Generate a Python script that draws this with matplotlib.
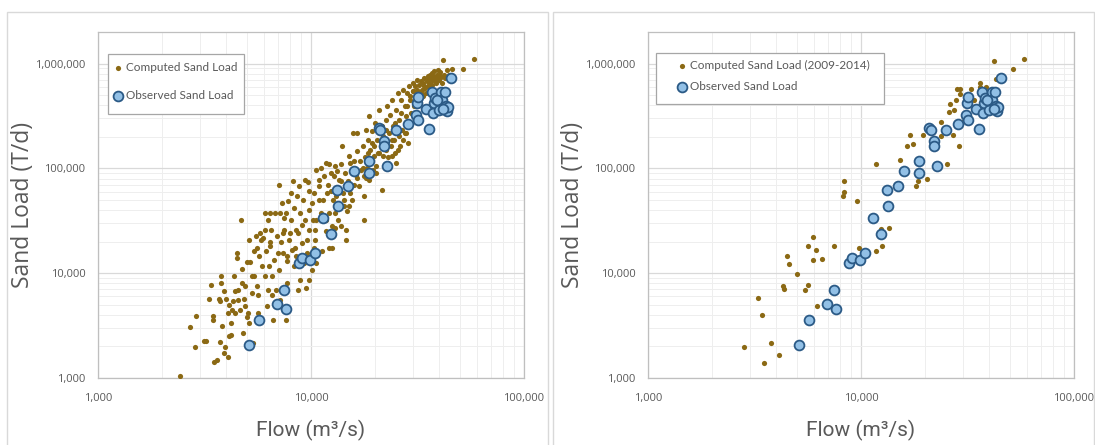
import numpy as np
import matplotlib
matplotlib.use('Agg')
import matplotlib.pyplot as plt
from matplotlib.ticker import FixedLocator, FuncFormatter, LogLocator, NullFormatter
from matplotlib.patches import Rectangle

plt.rcParams['font.family'] = ['Open Sans', 'DejaVu Sans']

# computed sand load, all years (flow m3/s, load T/d)
comp_flow = [2420, 2690, 2850, 2890, 3140, 3220, 3310, 3400, 3450, 3480, 3520, 3630, 3730, 3770, 3770,
             3680, 3740, 3840, 3910, 3950, 4060, 4090, 4140, 4220, 4270, 4220, 4320, 4350, 4380, 4420,
             4470, 4500, 4550, 4700, 4730, 4730, 4790, 4910, 4910, 5030, 5030, 5070, 5140, 5200, 5260,
             5340, 5400, 5500, 5560, 5620, 5640, 5720, 5780, 5860, 5980, 6060, 6110, 6160, 6210, 6270,
             6410, 6410, 6470, 6580, 6640, 6710, 6850, 6900, 7040, 7190, 7190, 7330, 7400, 7460, 7510,
             7600, 7680, 7740, 7790, 7870, 8030, 8070, 8250, 8330, 8380, 8470, 8610, 8680, 8830, 8920,
             9070, 9160, 9330, 9400, 9500, 9590, 9670, 9740, 9790, 9800, 10100, 10200, 10300, 10400, 10600,
             10600, 10900, 10900, 11200, 11300, 11500, 11700, 11700, 11900, 12000, 12100, 12200, 12400, 12500, 12700,
             12800, 12900, 13000, 13100, 13300, 13400, 13600, 13700, 13800, 13900, 14000, 14200, 14300, 14500, 14600,
             14700, 14900, 15100, 15200, 15300, 15600, 15800, 16000, 16200, 16400, 16500, 16800, 17100, 17500, 17700,
             17800, 17800, 18000, 18200, 18400, 18500, 18700, 18800, 19000, 19200, 19400, 19600, 19800, 20000, 20100,
             20400, 20600, 20800, 21100, 21400, 21600, 21600, 21900, 22200, 22400, 22600, 22800, 23100, 23200, 23500,
             23700, 24000, 24100, 24300, 24600, 24800, 25000, 25200, 25500, 25800, 26000, 26300, 26500, 26800, 27000,
             27100, 27500, 27800, 28000, 28300, 28500, 28900, 29100, 29300, 29600, 30000, 30200, 30600, 30900, 31200,
             31500, 31800, 32100, 32400, 32800, 33100, 33400, 33700, 34000, 34300, 34600, 35000, 35300, 35600, 35800,
             36300, 36600, 37000, 37200, 37600, 37900, 38300, 38700, 39000, 39400, 39700, 40200, 40500, 41000, 41700,
             42200, 43300, 44300, 45800, 51800, 58400,
             3910, 4000, 4140, 4550, 4650, 4840, 5100, 5300, 5420, 5600, 5810, 6090, 6250, 6360, 6450,
             6550, 6800, 6970, 7080, 7260, 7400, 7630, 7740, 7930, 8130, 8330, 8530, 8720, 8860, 9070,
             9270, 9540, 9810, 10100, 10300, 10400, 10600, 10900, 11100, 11400, 11700, 12200, 12400, 12600, 12900,
             13200, 13900, 14300, 14600, 15100, 15300, 16000, 16500, 17000, 17500, 18200, 18500, 19000, 19300, 19700,
             20200, 20900, 21700, 22400, 23000, 23900, 24800, 25700, 26500, 27500, 28200, 29100, 30200, 31500, 32800,
             34000, 35800, 37200, 38700, 41300, 42600]
comp_load = [1050, 3060, 1960, 3870, 2240, 2240, 5720, 7720, 3870, 3600, 1410, 1500, 2200, 9330, 8050,
             5720, 5380, 3110, 1730, 1960, 1570, 4170, 5010, 3350, 4490, 2590, 5380, 9460, 4170, 6720,
             14000, 15600, 6960, 32400, 10960, 8050, 2690, 4830, 7500, 12700, 3820, 4170, 20600, 12700, 9330,
             2160, 16200, 22500, 7500, 6240, 4170, 14500, 24200, 11600, 21700, 37600, 9330, 16200, 4830, 6960,
             37600, 18000, 26000, 9330, 3600, 13500, 6960, 22500, 70000, 37600, 5590, 46800, 15600, 26000, 33700,
             3600, 13000, 8050, 48500, 20900, 32400, 58300, 75300, 11600, 17400, 26000, 54200, 6960, 67500, 37600,
             19400, 50300, 78200, 32400, 7220, 15600, 74000, 60400, 8670, 40000, 10800, 32400, 17400, 26000, 12500,
             95900, 78200, 50300, 101000, 16200, 84100, 113000, 25100, 58300, 70000, 37600, 109000, 90400, 17400, 50300,
             84100, 105000, 27000, 54200, 93800, 32400, 78200, 43500, 109000, 28000, 163000, 58300, 43500, 90400, 20900,
             39000, 75300, 130000, 67500, 113000, 50300, 218000, 118000, 87300, 146000, 218000, 67500, 97000, 163000, 84100,
             32400, 54200, 128000, 81000, 101000, 188000, 78200, 314000, 151000, 118000, 226000, 97000, 163000, 272000, 105000,
             188000, 140000, 364000, 218000, 163000, 61800, 252000, 130000, 188000, 292000, 151000, 392000, 128000, 218000, 326000,
             163000, 130000, 453000, 252000, 188000, 140000, 113000, 364000, 525000, 202000, 292000, 163000, 453000, 234000, 565000,
             188000, 392000, 314000, 218000, 525000, 175000, 608000, 252000, 453000, 338000, 545000, 653000, 392000, 608000, 453000,
             703000, 525000, 631000, 422000, 678000, 565000, 488000, 653000, 730000, 586000, 525000, 678000, 757000, 608000, 653000,
             785000, 565000, 703000, 631000, 757000, 845000, 678000, 730000, 785000, 877000, 703000, 768000, 826000, 745000, 1076000,
             785000, 877000, 785000, 889000, 890000, 1117000,
             6720, 5720, 2490, 5590, 4490, 5720, 3350, 6470, 9460, 17400, 20900, 26000, 32400, 11600, 20000,
             6240, 37600, 15600, 10800, 20000, 24200, 37600, 14500, 24200, 16800, 41900, 14500, 24200, 8670, 29000,
             12500, 20900, 26000, 46800, 58300, 20900, 32400, 67500, 37600, 50300, 32400, 17400, 60400, 28000, 37600,
             62300, 75300, 50300, 26000, 43500, 58300, 70000, 81000, 118000, 101000, 234000, 140000, 90400, 175000, 130000,
             90400, 140000, 202000, 234000, 113000, 188000, 272000, 151000, 338000, 218000, 392000, 488000, 545000, 565000, 525000,
             608000, 730000, 815000, 653000, 653000, 730000]

# computed sand load 2009-2014, right chart
recent_flow = [2830, 3280, 3430, 3520, 3760, 4110, 4290, 4370, 4470, 4600, 4990, 5480, 5620, 5650, 5930,
               5930, 6180, 6210, 6580, 7500, 8240, 8340, 8310, 9530, 9810, 11800, 11700, 12400, 12600, 13500,
               15300, 16400, 17000, 17600, 18200, 18500, 19600, 20400, 20400, 22400, 23700, 23700, 25400, 25800, 26200,
               26900, 27400, 27900, 28200, 29200, 28900, 29300, 30500, 33000, 34000, 36100, 36300, 38700, 42300, 43100,
               52000, 58500]
recent_load = [1980, 5800, 3960, 1390, 2160, 1660, 7490, 7060, 14700, 12100, 9820, 6960, 7650, 18300, 22000,
               13300, 16800, 4900, 13800, 18300, 54200, 60000, 76400, 48900, 17300, 16400, 111000, 26400, 18300, 26800,
               121000, 163000, 207000, 169000, 68400, 75300, 208000, 79200, 248000, 175000, 277000, 202000, 111000, 343000, 412000,
               208000, 364000, 453000, 573000, 573000, 163000, 513000, 282000, 577000, 453000, 653000, 598000, 594000, 1069000, 720000,
               896000, 1109000]

# observed sand load (same in both charts)
obs_flow = [5100, 5710, 6900, 7640, 7450, 8790, 9040, 9890, 10400, 11400, 12400, 13400, 13300, 14900, 16000,
            18800, 18800, 22700, 20900, 21200, 22000, 22000, 25100, 28400, 31100, 31700, 31600, 31800, 34700, 35700,
            37000, 37700, 37400, 38100, 39900, 41000, 41400, 42500, 43000, 43400, 43800, 45500, 39200, 41900]
obs_load = [2080, 3600, 5080, 4590, 6960, 12500, 13900, 13400, 15600, 33900, 23500, 43500, 62300, 68000, 93800,
            90300, 118600, 104700, 243000, 230000, 181000, 165000, 234000, 267000, 326000, 290000, 422000, 477000, 369000, 240000,
            541000, 422000, 338000, 470000, 364000, 537000, 453000, 537000, 397000, 356000, 385000, 729000, 453000, 369000]

comp_color = '#8b6914'
obs_face = '#92c0e6'
obs_edge = '#2b5a86'
text_gray = '#595959'

fig = plt.figure(figsize=(10.95, 4.45), dpi=100)

# chart area frames
fig.patches.append(Rectangle((0.006, -0.02), 0.494, 0.993, transform=fig.transFigure,
                             fill=False, edgecolor='#d9d9d9', linewidth=1.0))
fig.patches.append(Rectangle((0.505, -0.02), 0.494, 0.993, transform=fig.transFigure,
                             fill=False, edgecolor='#d9d9d9', linewidth=1.0))

# left, series, label, legend box (x0, x1, y0, y1), legend anchor (x, y), label spacing
panels = [
    (0.0895, comp_flow, comp_load, 'Computed Sand Load', (0.0236, 0.342, 0.763, 0.9364), (0.0354, 0.913), 1.45),
    (0.5918, recent_flow, recent_load, 'Computed Sand Load (2009-2014)', (0.0187, 0.553, 0.792, 0.939), (0.068, 0.919), 0.85),
]

for left, cf, cl, lab, box, anc, lsp in panels:
    ax = fig.add_axes([left, 0.1506, 0.389, 0.7775])
    ax.set_xscale('log')
    ax.set_yscale('log')
    ax.set_xlim(1000, 100000)
    ax.set_ylim(1000, 2000000)

    ax.xaxis.set_major_locator(FixedLocator([1000, 10000, 100000]))
    ax.yaxis.set_major_locator(FixedLocator([1000, 10000, 100000, 1000000]))
    ax.xaxis.set_minor_locator(LogLocator(base=10, subs=np.arange(2, 10)))
    ax.yaxis.set_minor_locator(LogLocator(base=10, subs=np.arange(2, 10)))
    fmt = FuncFormatter(lambda v, p: '{:,.0f}'.format(v))
    ax.xaxis.set_major_formatter(fmt)
    ax.yaxis.set_major_formatter(fmt)
    ax.xaxis.set_minor_formatter(NullFormatter())
    ax.yaxis.set_minor_formatter(NullFormatter())

    ax.grid(True, which='major', color='#d9d9d9', linewidth=0.9)
    ax.grid(True, which='minor', color='#eeeeee', linewidth=0.7)
    ax.set_axisbelow(True)
    for s in ax.spines.values():
        s.set_color('#bfbfbf')
        s.set_linewidth(0.9)
    ax.tick_params(which='both', length=0, labelsize=8, labelcolor=text_gray)
    ax.tick_params(axis='x', pad=11)
    ax.tick_params(axis='y', pad=9)

    ax.scatter(cf, cl, s=14, color=comp_color, linewidths=0, label=lab, zorder=3)
    ax.scatter(obs_flow, obs_load, s=50, facecolor=obs_face, edgecolor=obs_edge,
               linewidths=1.3, label='Observed Sand Load', zorder=4)

    ax.set_ylabel('Sand Load (T/d)', fontsize=16.5, color=text_gray)
    ax.set_xlabel('Flow (m³/s)', fontsize=15, color=text_gray, family=['Roboto', 'DejaVu Sans'])
    ax.yaxis.set_label_coords(-0.147, 0.5)
    ax.xaxis.set_label_coords(0.5, -0.122)

    # legend frame drawn by hand, legend itself frameless
    ax.add_patch(Rectangle((box[0], box[2]), box[1] - box[0], box[3] - box[2], transform=ax.transAxes,
                           facecolor='white', edgecolor='#a6a6a6', linewidth=0.9, zorder=5))
    leg = ax.legend(loc='upper left', bbox_to_anchor=anc, borderaxespad=0, borderpad=0,
                    frameon=False, prop={'family': ['Lato', 'DejaVu Sans'], 'size': 8.5},
                    labelspacing=lsp, handletextpad=0.3, handlelength=0.8, labelcolor=text_gray)
    leg.set_zorder(6)

fig.savefig('out.png', dpi=100)
